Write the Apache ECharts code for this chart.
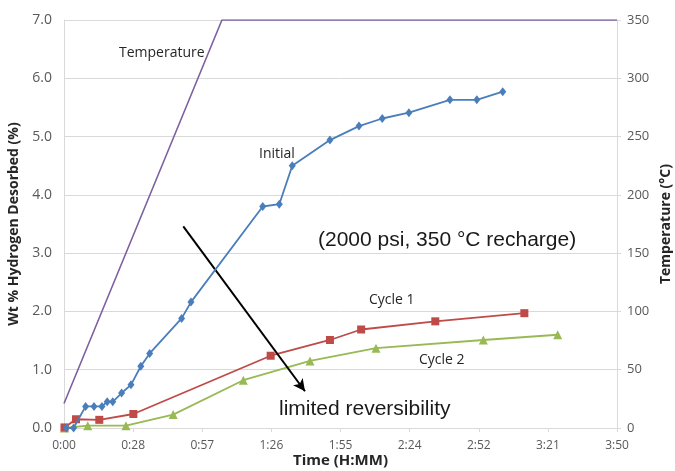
<!DOCTYPE html>
<html>
<head>
<meta charset="utf-8">
<script src="https://cdn.jsdelivr.net/npm/echarts@6/dist/echarts.min.js"></script>
<style>
  html, body { margin: 0; padding: 0; background: #fff; }
  #chart { width: 675px; height: 471px; }
</style>
</head>
<body>
<div id="chart"></div>
<script>
// Time in minutes; axis ticks every 0.02 day (28.8 min)
const xTickStep = 28.8;
const xMax = 230.4;

// Hydrogen desorbed (wt %) — [minutes, wt %]
const initialData = [
  [1, 0.0], [4, 0.0], [9, 0.37], [12.5, 0.37], [15.8, 0.37], [18, 0.45], [20.3, 0.45],
  [24, 0.6], [27.9, 0.74], [32, 1.06], [35.7, 1.28], [49, 1.88], [52.9, 2.16],
  [82.8, 3.8], [89.7, 3.84], [95.1, 4.5], [110.8, 4.94], [122.9, 5.18],
  [132.6, 5.31], [143.7, 5.41], [160.8, 5.63], [172, 5.63], [182.8, 5.77]
];
const cycle1Data = [
  [0.2, 0.01], [5, 0.15], [14.7, 0.14], [28.9, 0.24], [86.1, 1.24],
  [110.8, 1.51], [123.8, 1.69], [154.7, 1.83], [191.8, 1.97]
];
const cycle2Data = [
  [0.2, 0.0], [9.9, 0.04], [25.8, 0.04], [45.5, 0.23], [74.7, 0.82],
  [102.5, 1.15], [130, 1.37], [174.7, 1.51], [205.7, 1.6]
];
// Furnace temperature (°C)
const temperatureData = [[0, 21], [65.8, 350], [xMax, 350]];

// Arrow marking the drop in capacity between cycles
const arrowStart = [49.7, 3.46];
const arrowEnd = [100.4, 0.63];

const labelFont = 'Open Sans, Noto Sans, sans-serif';
const gridColor = '#d9d9d9';
const tickText = '#595959';

function fmtTime(v) {
  const m = Math.floor(v + 1e-6);
  const h = Math.floor(m / 60);
  const mm = m % 60;
  return h + ':' + (mm < 10 ? '0' : '') + mm;
}

const chart = echarts.init(document.getElementById('chart'), null, { renderer: 'canvas' });

chart.setOption({
  backgroundColor: '#ffffff',
  animation: false,
  grid: { left: 64, right: 58, top: 20, bottom: 43, containLabel: false, outerBoundsMode: 'none' },
  xAxis: {
    type: 'value', min: 0, max: xMax, interval: xTickStep,
    name: 'Time (H:MM)', nameLocation: 'middle', nameGap: 25, nameMoveOverlap: false,
    nameTextStyle: { fontFamily: labelFont, fontWeight: 'bold', fontSize: 15, color: '#262626' },
    axisLine: { show: true, lineStyle: { color: gridColor, width: 1 } },
    axisTick: { show: true, length: 4, lineStyle: { color: gridColor } },
    axisLabel: { formatter: fmtTime, fontFamily: labelFont, fontSize: 12, color: tickText, margin: 12 },
    splitLine: { show: false }
  },
  yAxis: [
    {
      type: 'value', min: 0, max: 7, interval: 1, position: 'left',
      name: 'Wt % Hydrogen Desorbed (%)', nameLocation: 'middle', nameGap: 43, nameRotate: 90, nameMoveOverlap: false,
      nameTextStyle: { fontFamily: labelFont, fontWeight: 'bold', fontSize: 14, color: '#262626' },
      axisLine: { show: true, lineStyle: { color: gridColor } },
      axisTick: { show: false },
      axisLabel: { formatter: v => v.toFixed(1), fontFamily: labelFont, fontSize: 14, color: tickText, margin: 12 },
      splitLine: { show: true, lineStyle: { color: gridColor, width: 1 } }
    },
    {
      type: 'value', min: 0, max: 350, interval: 50, position: 'right',
      name: 'Temperature (°C)', nameLocation: 'middle', nameGap: 42, nameRotate: 90, nameMoveOverlap: false,
      nameTextStyle: { fontFamily: labelFont, fontWeight: 'bold', fontSize: 14, color: '#262626' },
      axisLine: { show: true, lineStyle: { color: gridColor } },
      axisTick: { show: true, length: 4, lineStyle: { color: gridColor } },
      axisLabel: { fontFamily: labelFont, fontSize: 13, color: tickText, margin: 10 },
      splitLine: { show: false }
    }
  ],
  series: [
    {
      name: 'Temperature', type: 'line', yAxisIndex: 1, data: temperatureData,
      showSymbol: false, symbol: 'none',
      lineStyle: { color: '#7d60a0', width: 1.6 }, z: 2
    },
    {
      name: 'Cycle 2', type: 'line', data: cycle2Data,
      symbol: 'triangle', symbolSize: 9,
      itemStyle: { color: '#98b954' }, lineStyle: { color: '#98b954', width: 1.8 }, z: 3
    },
    {
      name: 'Cycle 1', type: 'line', data: cycle1Data,
      symbol: 'rect', symbolSize: 8,
      itemStyle: { color: '#be4b48' }, lineStyle: { color: '#be4b48', width: 1.8 }, z: 4
    },
    {
      name: 'Initial', type: 'line', data: initialData,
      symbol: 'diamond', symbolSize: [7, 9],
      itemStyle: { color: '#4a7ebb' }, lineStyle: { color: '#4a7ebb', width: 1.8 }, z: 5,
      markLine: {
        silent: true, symbol: ['none', 'arrow'], symbolSize: [9, 12],
        lineStyle: { color: '#000000', width: 2, type: 'solid' },
        label: { show: false },
        data: [[{ coord: arrowStart }, { coord: arrowEnd }]]
      }
    }
  ],
  graphic: [
    { type: 'text', left: 119, top: 46, style: { text: 'Temperature', font: '14px ' + labelFont, fill: '#262626' } },
    { type: 'text', left: 259, top: 147, style: { text: 'Initial', font: '14px ' + labelFont, fill: '#262626' } },
    { type: 'text', left: 369, top: 293, style: { text: 'Cycle 1', font: '14px ' + labelFont, fill: '#262626' } },
    { type: 'text', left: 419, top: 353, style: { text: 'Cycle 2', font: '14px ' + labelFont, fill: '#262626' } },
    { type: 'text', left: 318, top: 230, style: { text: '(2000 psi, 350 °C recharge)', font: '21px Liberation Sans, Arial, sans-serif', fill: '#1a1a1a' } },
    { type: 'text', left: 279, top: 399, style: { text: 'limited reversibility', font: '21px Liberation Sans, Arial, sans-serif', fill: '#1a1a1a' } }
  ]
});
</script>
</body>
</html>
